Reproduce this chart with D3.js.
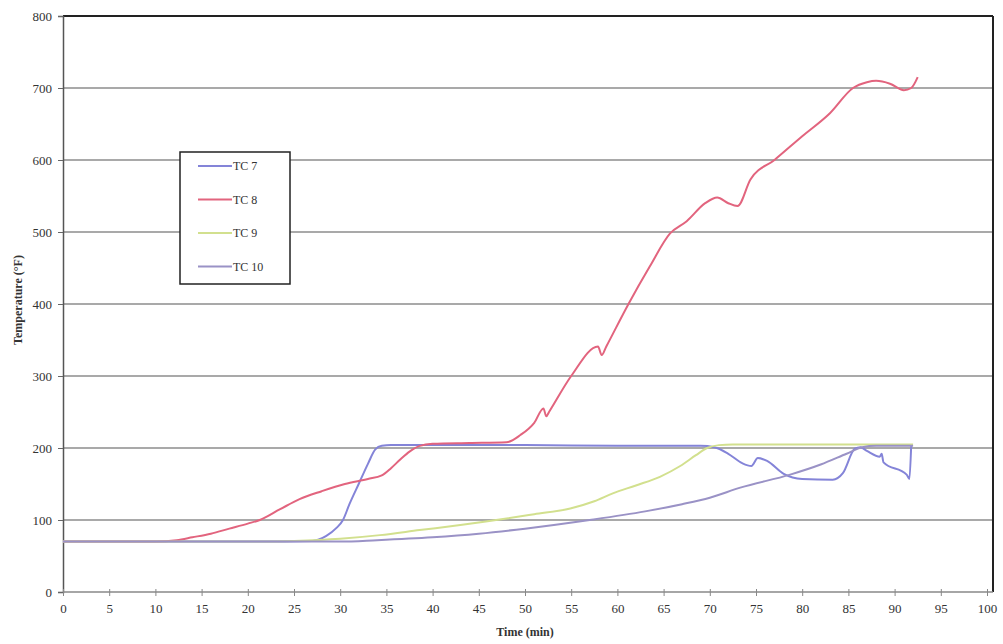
<!DOCTYPE html>
<html>
<head>
<meta charset="utf-8">
<script src="https://cdn.jsdelivr.net/npm/d3@7"></script>
<style>
  body { margin: 0; background: #fff; }
  text { font-family: "Liberation Serif", "Times New Roman", serif; fill: #333; }
</style>
</head>
<body>
<script>
var width = 1003, height = 644;
var margin = { top: 16, right: 16, bottom: 52, left: 63 };

// series names and colours
var seriesNames = ["TC 7", "TC 8", "TC 9", "TC 10"];
var seriesColors = ["#8484d8", "#e2647e", "#d2e08e", "#9a92c6"];

// values (time in min, temperature in °F)
var tc7Time = [0, 10, 20, 27, 28.5, 29.6, 30.3, 31, 32, 33, 33.8, 34.5, 35.5, 40, 50, 60, 69, 70.5, 72, 73.5, 74.5, 75.2, 76.2, 78, 80, 83.3, 84.4, 85.7, 86.3, 87, 88.4, 88.6, 88.8, 91.3, 91.6, 91.8];
var tc7Temp = [70, 70, 70, 71, 78, 89, 100, 122, 150, 178, 198, 203, 204, 204, 204, 203, 203, 201, 192, 179, 175, 186, 182, 164, 157, 156, 165, 199, 201, 196, 188, 192, 180, 163, 157, 205];

var tc8Time = [0, 10, 12.3, 14, 16, 18, 20, 21.3, 23.5, 25.6, 28, 30.5, 33, 34.5, 35.5, 36.5, 37.5, 38.6, 40, 44, 48, 49.5, 51, 52, 52.3, 52.6, 55, 57.9, 58.3, 58.8, 61.2, 63.5, 65.7, 67.5, 69.5, 70.8, 72, 73, 74.4, 77, 80, 83, 85.5, 87, 88, 89.5, 91, 91.8, 92.5];
var tc8Temp = [70, 70, 72, 76, 81, 88, 95, 100, 115, 129, 140, 150, 157, 162, 172, 184, 195, 203, 206, 207, 208, 218, 235, 255, 244, 250, 300, 341, 329, 341, 400, 452, 498, 515, 540, 548, 540, 536, 573, 600, 633, 665, 700, 708, 710, 706, 697, 700, 715];

var tc9Time = [0, 20, 25, 30, 34.3, 38.6, 43, 48, 51, 54.9, 57.5, 59.5, 62, 64.6, 66.8, 68.5, 69.7, 71, 72.5, 80, 92];
var tc9Temp = [70, 70, 71, 74, 79, 86, 93, 102, 108, 116, 126, 137, 148, 160, 175, 190, 200, 204, 205, 205, 205];

var tc10Time = [0, 30, 34, 40, 45, 50, 57, 63, 67, 70, 73.3, 78.7, 82, 84.8, 86.5, 88, 92];
var tc10Temp = [70, 70, 72, 76, 81, 88, 100, 112, 122, 131, 145, 163, 177, 192, 201, 203, 203];

var xTicks = d3.range(0, 101, 5);
var yTicks = d3.range(0, 801, 100);

var series = [
  { name: seriesNames[0], color: seriesColors[0], t: tc7Time, v: tc7Temp },
  { name: seriesNames[1], color: seriesColors[1], t: tc8Time, v: tc8Temp },
  { name: seriesNames[2], color: seriesColors[2], t: tc9Time, v: tc9Temp },
  { name: seriesNames[3], color: seriesColors[3], t: tc10Time, v: tc10Temp }
];

var svg = d3.select("body").append("svg")
  .attr("width", width)
  .attr("height", height);

var x = d3.scaleLinear().domain([0, 100]).range([margin.left, 987]);
var y = d3.scaleLinear().domain([0, 800]).range([592, margin.top]);

// gridlines
svg.append("g")
  .selectAll("line")
  .data(yTicks.filter(function(d) { return d > 0 && d < 800; }))
  .enter().append("line")
  .attr("x1", x(0)).attr("x2", 993)
  .attr("y1", function(d) { return y(d); })
  .attr("y2", function(d) { return y(d); })
  .attr("stroke", "#8c8c8c")
  .attr("stroke-width", 1.4);

// frame: top and right are black, left and bottom gray axes
svg.append("line")
  .attr("x1", x(0)).attr("x2", 993)
  .attr("y1", y(800)).attr("y2", y(800))
  .attr("stroke", "#222").attr("stroke-width", 2);
svg.append("line")
  .attr("x1", 993).attr("x2", 993)
  .attr("y1", y(800)).attr("y2", y(0))
  .attr("stroke", "#222").attr("stroke-width", 2);

var yAxis = d3.axisLeft(y).tickValues(yTicks).tickSize(5).tickPadding(6);
var gy = svg.append("g")
  .attr("transform", "translate(" + x(0) + ",0)")
  .call(yAxis);
gy.select(".domain").attr("stroke", "#555").attr("stroke-width", 1.5);
gy.selectAll(".tick line").attr("stroke", "#666");
gy.selectAll("text").style("font-size", "13px").attr("fill", "#333");

var xAxis = d3.axisBottom(x).tickValues(xTicks).tickSize(4).tickPadding(8);
var gx = svg.append("g")
  .attr("transform", "translate(0," + y(0) + ")")
  .call(xAxis);
gx.select(".domain").attr("stroke", "#888").attr("stroke-width", 1.5)
  .attr("d", "M" + x(0) + ",0H993");
gx.selectAll(".tick line").attr("stroke", "#888").attr("y1", -3);
gx.selectAll("text").style("font-size", "13px").attr("fill", "#333");

// axis titles
svg.append("text")
  .attr("transform", "translate(22,300) rotate(-90)")
  .attr("text-anchor", "middle")
  .style("font-size", "12px")
  .style("font-weight", "bold")
  .text("Temperature (°F)");

svg.append("text")
  .attr("x", 525).attr("y", 636)
  .attr("text-anchor", "middle")
  .style("font-size", "12px")
  .style("font-weight", "bold")
  .text("Time (min)");

// lines
var line = d3.line()
  .x(function(d) { return x(d[0]); })
  .y(function(d) { return y(d[1]); })
  .curve(d3.curveMonotoneX);

svg.append("g")
  .selectAll("path")
  .data(series)
  .enter().append("path")
  .attr("fill", "none")
  .attr("stroke", function(d) { return d.color; })
  .attr("stroke-width", 2)
  .attr("stroke-linejoin", "round")
  .attr("d", function(d) { return line(d.t.map(function(t, i) { return [t, d.v[i]]; })); });

// legend
var legend = svg.append("g").attr("transform", "translate(180,152)");
legend.append("rect")
  .attr("width", 110).attr("height", 132)
  .attr("fill", "#fff")
  .attr("stroke", "#222").attr("stroke-width", 1.5);

var items = legend.selectAll(".item")
  .data(series)
  .enter().append("g")
  .attr("class", "item")
  .attr("transform", function(d, i) { return "translate(0," + (14 + i * 33.5) + ")"; });
items.append("line")
  .attr("x1", 18).attr("x2", 52)
  .attr("stroke", function(d) { return d.color; })
  .attr("stroke-width", 2);
items.append("text")
  .attr("x", 53).attr("y", 4)
  .style("font-size", "12px")
  .text(function(d) { return d.name; });
</script>
</body>
</html>
